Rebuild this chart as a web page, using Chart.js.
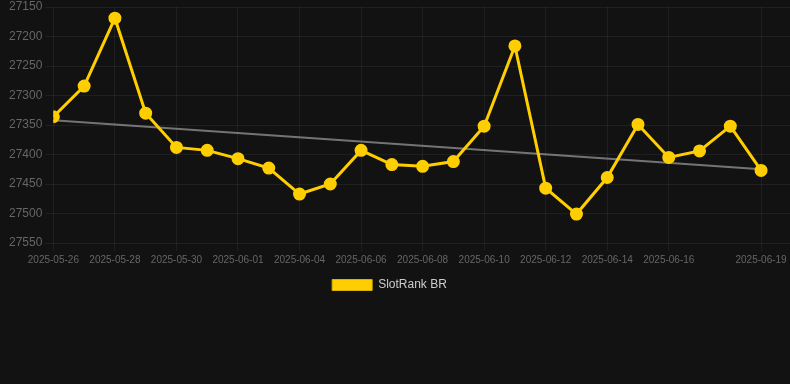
<!DOCTYPE html>
<html>
<head>
<meta charset="utf-8">
<script src="https://cdn.jsdelivr.net/npm/chart.js@4.4.1/dist/chart.umd.min.js"></script>
<style>
  html, body { margin: 0; padding: 0; background: #121212; }
  #wrap { width: 790px; height: 301px; position: relative; }
</style>
</head>
<body>
<div id="wrap"><canvas id="c"></canvas></div>
<script>
const dates = [
  '2025-05-26','2025-05-27','2025-05-28','2025-05-29','2025-05-30','2025-05-31',
  '2025-06-01','2025-06-02','2025-06-04','2025-06-05','2025-06-06','2025-06-07',
  '2025-06-08','2025-06-09','2025-06-10','2025-06-11','2025-06-12','2025-06-13',
  '2025-06-14','2025-06-15','2025-06-16','2025-06-17','2025-06-18','2025-06-19'
];
const rankValues = [
  27336, 27284, 27169, 27330, 27388, 27393,
  27407, 27423, 27467, 27450, 27393, 27417,
  27420, 27412, 27352, 27216, 27457, 27501,
  27439, 27349, 27405, 27394, 27352, 27427
];
const trendStart = 27342;
const trendEnd = 27425;
const shownTickIndices = [0, 2, 4, 6, 8, 10, 12, 14, 16, 18, 20, 23];
const yTickMin = 27150;
const yTickMax = 27550;
const yTickStep = 50;
const seriesName = 'SlotRank BR';

const gold = '#FFCE00';
const fontFamily = 'Liberation Sans, Arial, sans-serif';
const mainPoints = rankValues.map((v, i) => ({ x: i, y: v }));
const trendPoints = [
  { x: 0, y: trendStart },
  { x: dates.length - 1, y: trendEnd }
];

const LEGEND_SHIFT = 8.5;
const legendNudge = {
  id: 'legendNudge',
  beforeDraw(chart) {
    const l = chart.legend;
    if (l) { l.left -= LEGEND_SHIFT; l.right -= LEGEND_SHIFT; }
  },
  afterDraw(chart) {
    const l = chart.legend;
    if (l) { l.left += LEGEND_SHIFT; l.right += LEGEND_SHIFT; }
  }
};

new Chart(document.getElementById('c'), {
  type: 'line',
  data: {
    datasets: [
      {
        label: seriesName,
        data: mainPoints,
        borderColor: gold,
        backgroundColor: gold,
        pointBackgroundColor: gold,
        pointBorderColor: gold,
        borderWidth: 3,
        pointRadius: 5,
        tension: 0,
        order: 1
      },
      {
        label: 'trend',
        data: trendPoints,
        borderColor: 'rgba(150,150,150,0.75)',
        borderWidth: 2,
        pointRadius: 0,
        fill: false,
        order: 2
      }
    ]
  },
  plugins: [legendNudge],
  options: {
    responsive: true,
    maintainAspectRatio: false,
    animation: false,
    layout: { autoPadding: false, padding: { left: 6, right: 0, top: 0, bottom: 0 } },
    plugins: {
      tooltip: { enabled: false },
      legend: {
        position: 'bottom',
        labels: {
          color: '#cccccc',
          font: { size: 12, family: fontFamily },
          boxWidth: 40,
          boxHeight: 11,
          filter: (item) => item.text === seriesName,
          generateLabels: (chart) => {
            const items = Chart.defaults.plugins.legend.labels.generateLabels(chart);
            items.forEach(it => { it.lineWidth = 1; it.strokeStyle = '#d9b000'; });
            return items;
          }
        }
      }
    },
    scales: {
      x: {
        type: 'linear',
        min: 0,
        max: 23.94,
        afterBuildTicks: (axis) => {
          axis.ticks = shownTickIndices.map(i => ({ value: i }));
        },
        afterFit: (axis) => { axis.paddingRight = 0; },
        ticks: {
          autoSkip: false,
          maxRotation: 0,
          color: '#666666',
          font: { size: 10, family: fontFamily },
          callback: (value) => dates[value] || ''
        },
        grid: { color: 'rgba(255,255,255,0.06)', tickLength: 8 },
        border: { display: false }
      },
      y: {
        reverse: true,
        min: yTickMin,
        max: yTickMax,
        afterFit: (axis) => { axis.paddingTop = 7; },
        ticks: {
          stepSize: yTickStep,
          color: '#666666',
          font: { size: 12, family: fontFamily },
          callback: (value) => String(value)
        },
        grid: { color: 'rgba(255,255,255,0.06)' },
        border: { display: false }
      }
    }
  }
});
</script>
</body>
</html>
